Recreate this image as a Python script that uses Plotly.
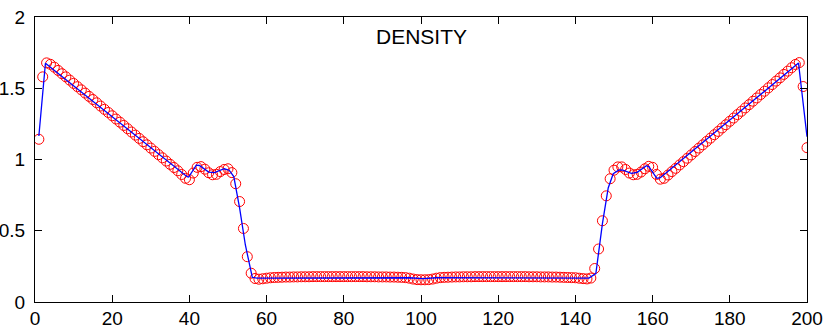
import plotly.graph_objects as go

# numerical solution (red circles), one value per cell x = 1..200
x_cells = list(range(1, 201))
rho_num = [
    1.142, 1.580, 1.678, 1.668, 1.648, 1.625, 1.602, 1.580, 1.557, 1.534,
    1.511, 1.489, 1.466, 1.443, 1.421, 1.398, 1.375, 1.352, 1.330, 1.307,
    1.284, 1.262, 1.239, 1.216, 1.193, 1.171, 1.148, 1.125, 1.103, 1.080,
    1.057, 1.034, 1.012, 0.989, 0.966, 0.944, 0.921, 0.895, 0.868, 0.858,
    0.905, 0.945, 0.950, 0.932, 0.907, 0.893, 0.896, 0.915, 0.930, 0.935,
    0.908, 0.830, 0.705, 0.516, 0.318, 0.202, 0.165, 0.160, 0.163, 0.167,
    0.170, 0.172, 0.173, 0.174, 0.175, 0.175, 0.176, 0.176, 0.177, 0.177,
    0.177, 0.178, 0.178, 0.178, 0.178, 0.178, 0.178, 0.178, 0.178, 0.178,
    0.178, 0.178, 0.178, 0.178, 0.178, 0.177, 0.177, 0.177, 0.176, 0.176,
    0.176, 0.175, 0.175, 0.174, 0.173, 0.171, 0.167, 0.161, 0.157, 0.156,
    0.156, 0.157, 0.161, 0.167, 0.171, 0.173, 0.174, 0.175, 0.176, 0.176,
    0.177, 0.177, 0.177, 0.178, 0.178, 0.178, 0.178, 0.178, 0.178, 0.178,
    0.178, 0.178, 0.178, 0.178, 0.178, 0.178, 0.178, 0.177, 0.177, 0.177,
    0.176, 0.176, 0.176, 0.175, 0.175, 0.174, 0.173, 0.172, 0.171, 0.170,
    0.167, 0.164, 0.162, 0.168, 0.235, 0.372, 0.570, 0.745, 0.865, 0.925,
    0.948, 0.948, 0.930, 0.905, 0.893, 0.896, 0.912, 0.935, 0.952, 0.945,
    0.895, 0.862, 0.868, 0.891, 0.915, 0.938, 0.962, 0.985, 1.009, 1.032,
    1.056, 1.080, 1.103, 1.127, 1.150, 1.174, 1.197, 1.221, 1.244, 1.268,
    1.291, 1.315, 1.338, 1.362, 1.385, 1.409, 1.432, 1.456, 1.479, 1.503,
    1.526, 1.550, 1.573, 1.597, 1.620, 1.644, 1.667, 1.680, 1.512, 1.083,
]

# reference solution (blue line) vertices
x_ref = [1.0, 2.7, 39.4, 39.8, 41.8, 42.6, 45.0, 46.5, 49.0, 50.3, 51.5,
         53.0, 54.5, 56.3, 57.5, 97.0, 100.5, 104.0, 143.5, 145.3, 147.0,
         148.5, 149.8, 151.3, 152.3, 154.5, 156.0, 158.4, 159.0, 161.1,
         162.0, 197.8, 200.0]
rho_ref = [1.165, 1.675, 0.879, 0.877, 0.960, 0.958, 0.912, 0.908, 0.935,
           0.925, 0.880, 0.660, 0.400, 0.172, 0.168, 0.170, 0.164, 0.170,
           0.168, 0.200, 0.550, 0.800, 0.900, 0.927, 0.925, 0.903, 0.910,
           0.957, 0.950, 0.868, 0.872, 1.677, 1.160]

x_ticks = [0, 20, 40, 60, 80, 100, 120, 140, 160, 180, 200]
y_ticks = [0, 0.5, 1, 1.5, 2]
y_tick_text = ["0", "0.5", "1", "1.5", "2"]
title_text = "DENSITY"

FONT = "Liberation Sans, Arial, sans-serif"

fig = go.Figure()
fig.add_trace(go.Scatter(
    x=x_cells, y=rho_num, mode="markers",
    marker=dict(symbol="circle-open", size=10, color="#ff0000",
                line=dict(width=1, color="#ff0000")),
    showlegend=False, hoverinfo="skip"))
fig.add_trace(go.Scatter(
    x=x_ref, y=rho_ref, mode="lines",
    line=dict(color="#0000ff", width=1.3),
    showlegend=False, hoverinfo="skip"))

axis_common = dict(
    showline=True, linecolor="black", linewidth=1, mirror="ticks",
    ticks="inside", ticklen=7, tickwidth=1, tickcolor="black",
    showgrid=False, zeroline=False, automargin=False,
    tickfont=dict(family=FONT, size=19, color="black"),
)

fig.update_layout(
    width=830, height=328,
    margin=dict(l=35, r=23, t=17, b=26, pad=0),
    paper_bgcolor="white", plot_bgcolor="white",
    xaxis=dict(range=[0, 200], tickvals=x_ticks, ticklabelstandoff=-1,
               **axis_common),
    yaxis=dict(range=[0, 2], tickvals=y_ticks, ticktext=y_tick_text,
               ticklabelstandoff=5, **axis_common),
    annotations=[dict(
        x=100, y=1.86, xref="x", yref="y", text=title_text, showarrow=False,
        font=dict(family=FONT, size=21, color="black"),
        xanchor="center", yanchor="middle")],
)

fig.write_html("out.html",
               config={"displayModeBar": False, "staticPlot": True},
               post_script="document.body.style.margin='0';"
                           "document.body.style.overflow='hidden';")
